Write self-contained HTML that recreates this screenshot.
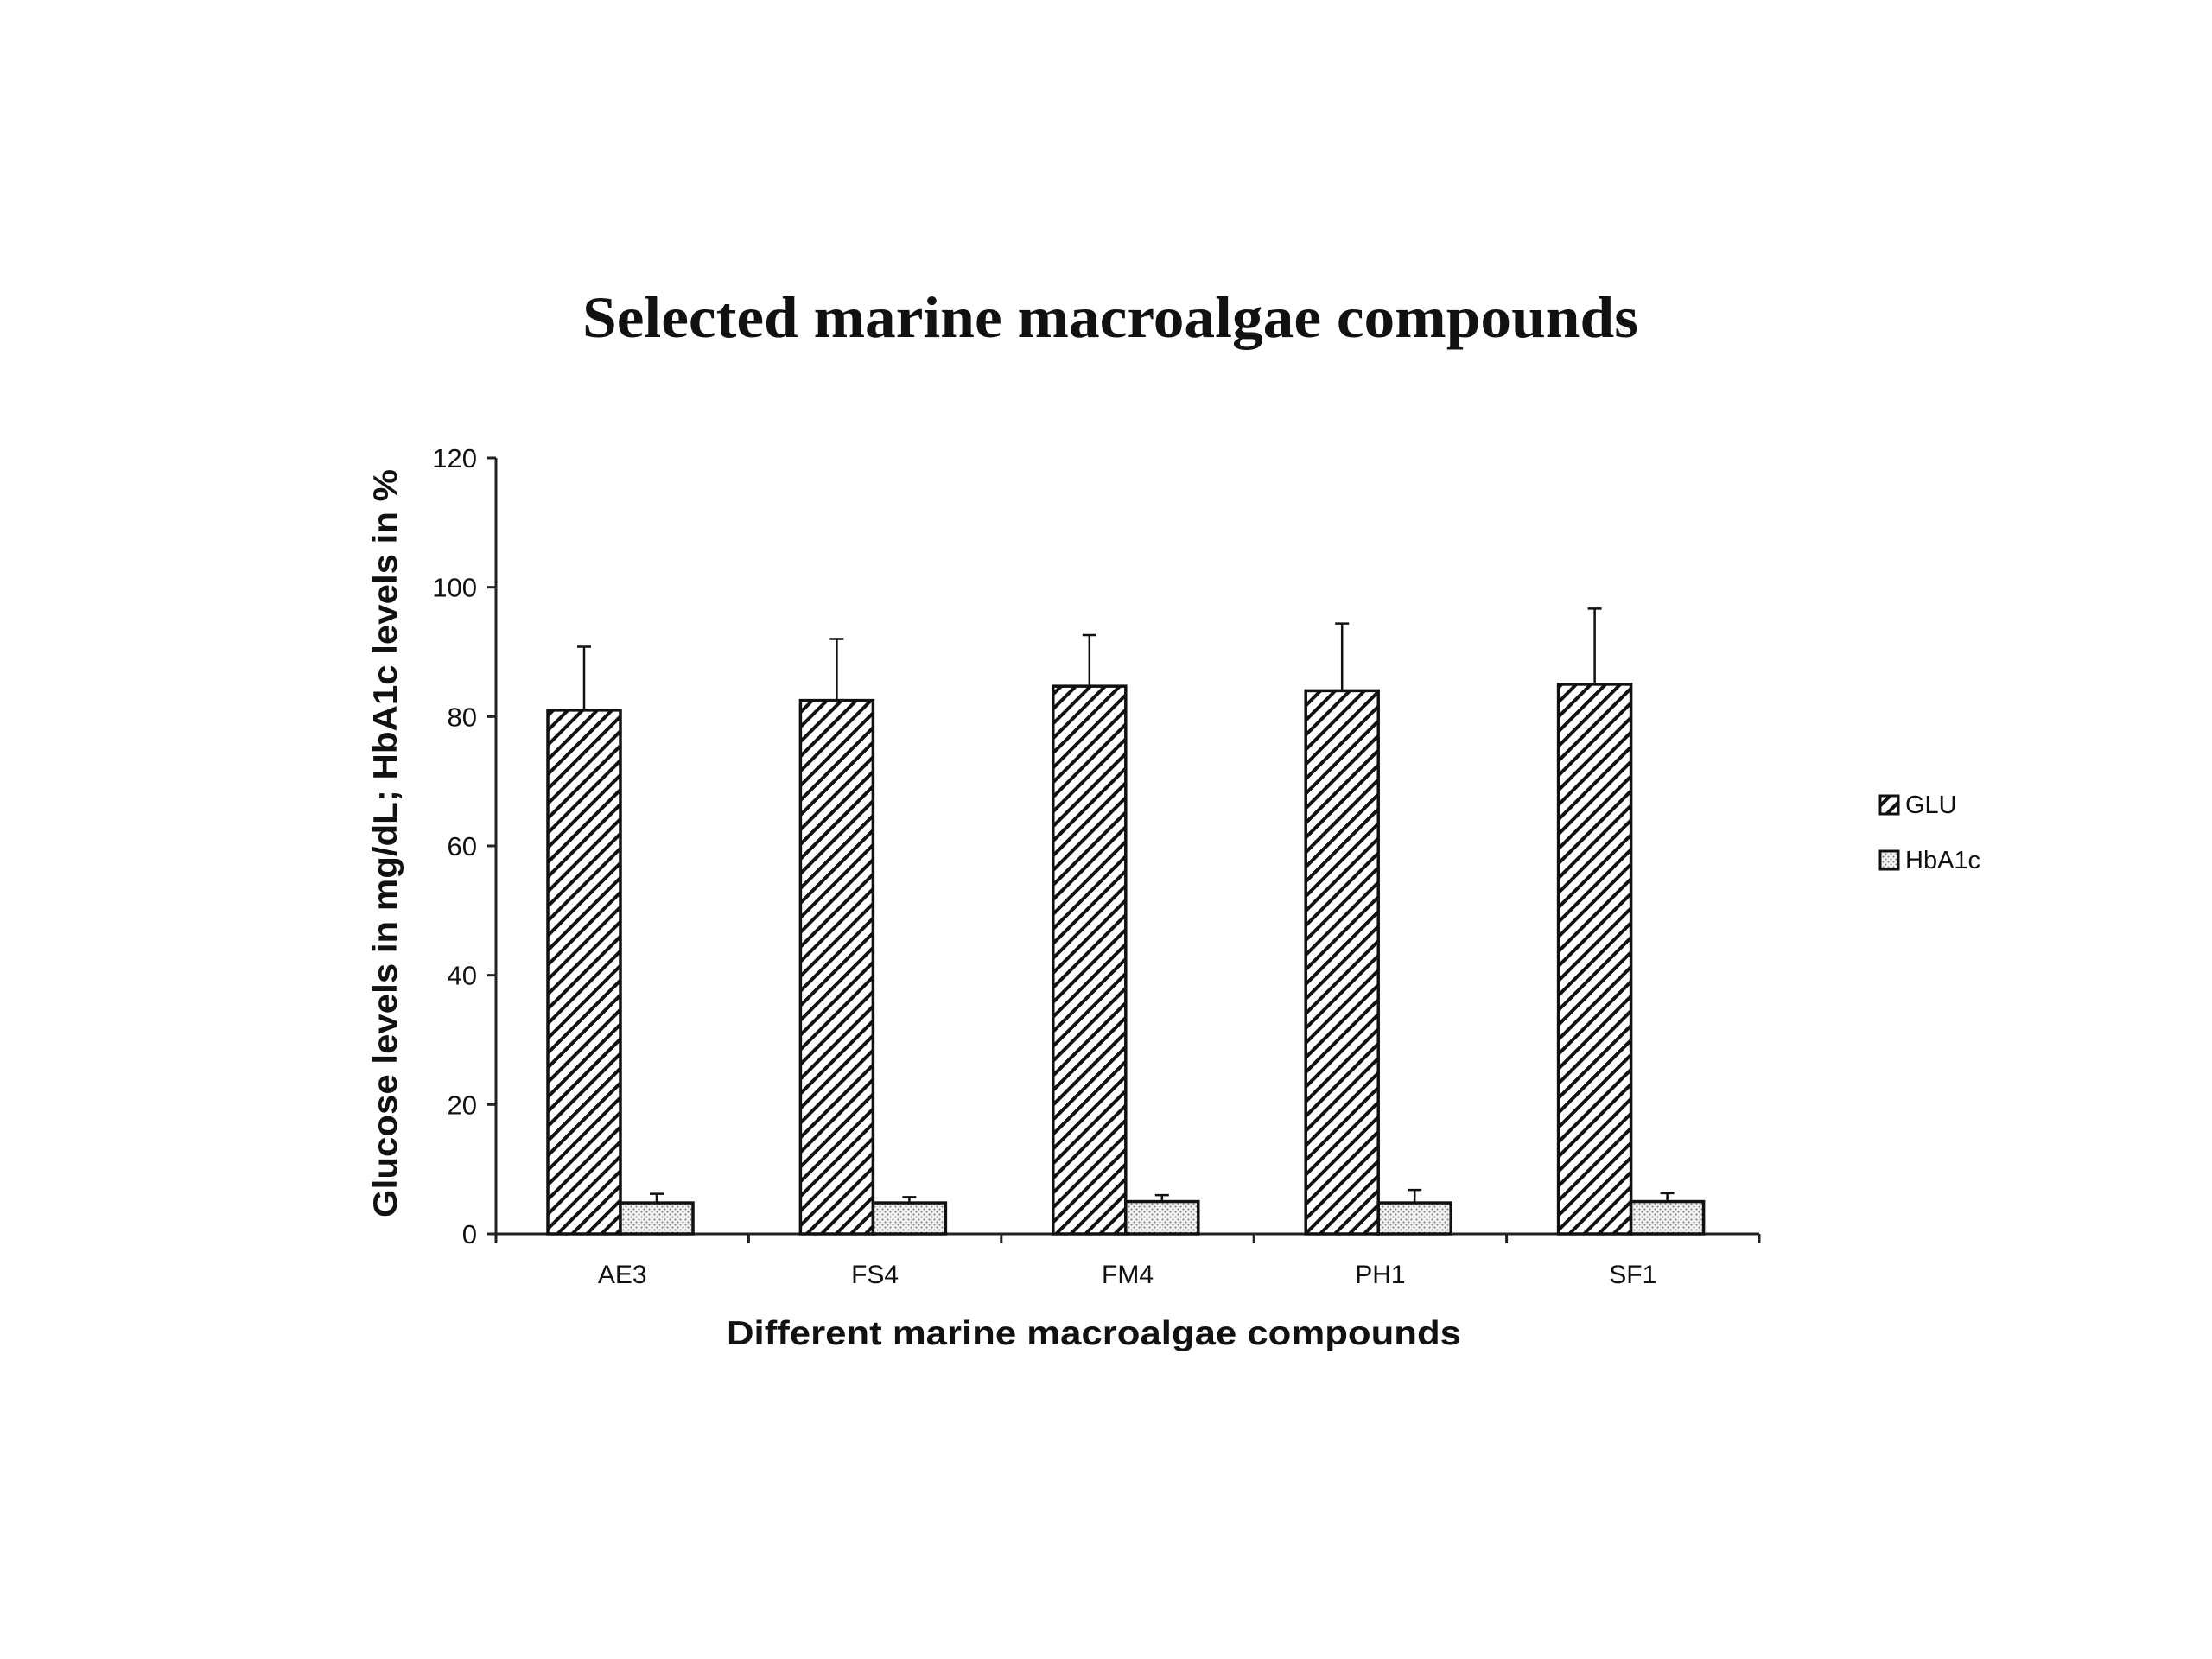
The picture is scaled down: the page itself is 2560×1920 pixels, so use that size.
<!DOCTYPE html>
<html><head><meta charset="utf-8"><style>
html,body{margin:0;padding:0;background:#fff}
svg{display:block}
text{font-family:"Liberation Sans",sans-serif;fill:#111}
</style></head><body>
<svg id="chart" width="2560" height="1920" viewBox="0 0 2560 1920" xmlns="http://www.w3.org/2000/svg">
<defs>
<pattern id="hatch" patternUnits="userSpaceOnUse" width="12" height="12" patternTransform="rotate(45)">
<rect width="12" height="12" fill="#fff"/><rect x="0" y="0" width="4" height="12" fill="#111"/>
</pattern>
<pattern id="dots" patternUnits="userSpaceOnUse" width="6" height="6">
<rect width="6" height="6" fill="#f2f2f2"/><circle cx="1.5" cy="1.5" r="1" fill="#777"/><circle cx="4.5" cy="4.5" r="1" fill="#777"/>
</pattern>
</defs>
<text x="1285" y="390" text-anchor="middle" font-size="68" font-weight="bold" style="font-family:'Liberation Serif',serif" textLength="1222" lengthAdjust="spacingAndGlyphs">Selected marine macroalgae compounds</text>
<g id="axes"></g>
<g id="bars"></g>
<text x="1266" y="1556" text-anchor="middle" font-size="39" font-weight="bold" textLength="850" lengthAdjust="spacingAndGlyphs">Different marine macroalgae compounds</text>
<text transform="translate(459,976) rotate(-90)" text-anchor="middle" font-size="39" font-weight="bold" textLength="866" lengthAdjust="spacingAndGlyphs">Glucose levels in mg/dL; HbA1c levels in %</text>
<g>
<rect x="2176" y="921" width="21" height="21" fill="url(#hatch)" stroke="#111" stroke-width="3"/>
<text x="2205" y="941" font-size="29">GLU</text>
<rect x="2176" y="985" width="21" height="21" fill="url(#dots)" stroke="#111" stroke-width="3"/>
<text x="2205" y="1005" font-size="29">HbA1c</text>
</g>
</svg>
<script>
const categories = ["AE3","FS4","FM4","PH1","SF1"];
const gluValues = [81, 82.5, 84.7, 84, 85];
const gluErrTop = [90.8, 92, 92.6, 94.4, 96.7];
const hbaValues = [4.8, 4.8, 5, 4.8, 5];
const hbaErrTop = [6.2, 5.7, 6, 6.8, 6.3];
const yTicks = [0,20,40,60,80,100,120];

const NS="http://www.w3.org/2000/svg";
const X0=574, X1=2036, Y0=1428, Y1=530, YMAX=120;
const band=(X1-X0)/categories.length;
const y=v=>Y0-(v/YMAX)*(Y0-Y1);
const bx=i=>X0+i*band;
function mk(tag,attrs,parent){const e=document.createElementNS(NS,tag);for(const k in attrs)e.setAttribute(k,attrs[k]);parent.appendChild(e);return e;}
const axes=document.getElementById('axes'), bars=document.getElementById('bars');

let ya=mk('line',{x1:X0,y1:Y1,x2:X0,y2:Y0,stroke:'#222','stroke-width':3},axes);


let xa=mk('line',{x1:X0-10,y1:Y0,x2:X1,y2:Y0,stroke:'#222','stroke-width':3},axes);


yTicks.forEach(t=>{
  let l=mk('line',{x1:X0-10,x2:X0,y1:y(t),y2:y(t),stroke:'#222','stroke-width':3},axes);
  
  
  let tx=mk('text',{x:X0-22,y:y(t)+11,'text-anchor':'end','font-size':31},axes);
  tx.textContent=t;
  
  
});
for(let i=0;i<=categories.length;i++){
  let l=mk('line',{x1:bx(i),x2:bx(i),y1:Y0,y2:Y0+11,stroke:'#222','stroke-width':3},axes);
  
  
}
categories.forEach((c,i)=>{
  let tx=mk('text',{x:bx(i)+band/2,y:Y0+57,'text-anchor':'middle','font-size':30},axes);
  tx.textContent=c;
  
  
  const w=84, start=bx(i)+60;
  [[gluValues,gluErrTop,'url(#hatch)','glu'],[hbaValues,hbaErrTop,'url(#dots)','hba1c']].forEach((s,j)=>{
    const x=start+j*w, v=s[0][i], e=s[1][i];
    let r=mk('rect',{x:x,y:y(v),width:w,height:Y0-y(v),fill:s[2],stroke:'#111','stroke-width':3.5},bars);
    
    
    let el=mk('path',{d:`M${x+w/2},${y(v)}V${y(e)}M${x+w/2-8},${y(e)}H${x+w/2+8}`,stroke:'#111','stroke-width':2.5,fill:'none'},bars);
    
    
  });
});
</script>
</body></html>
